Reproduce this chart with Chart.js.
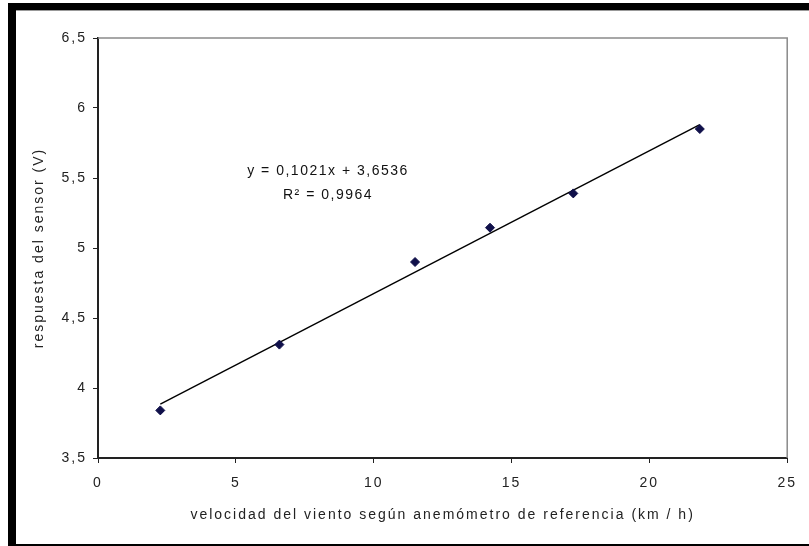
<!DOCTYPE html>
<html>
<head>
<meta charset="utf-8">
<script src="https://cdn.jsdelivr.net/npm/chart.js@4.4.1/dist/chart.umd.min.js"></script>
<style>
  html, body { margin: 0; padding: 0; background: #fff; }
  #wrap { width: 809px; height: 546px; position: relative; }
</style>
</head>
<body>
<div id="wrap"><canvas id="myChart" width="809" height="546"></canvas></div>
<script>
// datos
var velocidad = [2.26, 6.58, 11.5, 14.22, 17.24, 21.83];
var respuesta = [3.84, 4.31, 4.90, 5.145, 5.39, 5.85];
// linea de tendencia (extremos)
var trendX = [2.26, 21.83];
var trendY = [3.884, 5.882];
var ecuacion = 'y = 0,1021x + 3,6536';
var r2 = 'R² = 0,9964';
var xTitulo = 'velocidad del viento según anemómetro de referencia (km / h)';
var yTitulo = 'respuesta del sensor (V)';

var fontFam = '"Liberation Sans", Arial, sans-serif';
var espacio = '2px';
var coma = function(v){ return String(v).replace('.', ','); };

// marco negro + borde gris del area + texto de la ecuacion
var marco = {
  id: 'marco',
  beforeUpdate: function(chart){
    chart.ctx.letterSpacing = espacio;
  },
  beforeDraw: function(chart){
    var c = chart.ctx;
    c.letterSpacing = espacio;
    c.save();
    c.fillStyle = '#fff';
    c.fillRect(0, 0, chart.width, chart.height);
    c.fillStyle = '#000';
    c.fillRect(8, 3, chart.width - 8, 7);
    c.fillRect(8, 3, 8, chart.height - 3);
    c.fillRect(8, 544, chart.width - 8, 2);
    c.fillStyle = '#999';
    c.fillRect(16, 10, chart.width - 16, 1);
    c.restore();
  },
  beforeDatasetsDraw: function(chart){
    var a = chart.chartArea, c = chart.ctx;
    c.save();
    c.strokeStyle = '#8a8a8a';
    c.lineWidth = 1.5;
    c.beginPath();
    c.moveTo(a.left, a.top);
    c.lineTo(a.right, a.top);
    c.lineTo(a.right, a.bottom);
    c.stroke();
    c.restore();
  },
  afterDraw: function(chart){
    var c = chart.ctx;
    c.save();
    c.fillStyle = '#111';
    c.font = '14px ' + fontFam;
    c.letterSpacing = '1.5px';
    c.textAlign = 'center';
    c.textBaseline = 'middle';
    c.fillText(ecuacion, 328, 171);
    c.fillText(r2, 328, 195);
    c.restore();
  }
};

new Chart(document.getElementById('myChart'), {
  type: 'scatter',
  data: {
    datasets: [
      {
        label: 'respuesta',
        data: velocidad.map(function(v, i){ return {x: v, y: respuesta[i]}; }),
        pointStyle: 'rectRot',
        pointRadius: 4.5,
        backgroundColor: '#10104a',
        borderColor: '#10104a',
        borderWidth: 1,
        order: 1
      },
      {
        label: 'tendencia',
        type: 'line',
        data: trendX.map(function(v, i){ return {x: v, y: trendY[i]}; }),
        borderColor: '#000',
        borderWidth: 1.4,
        pointRadius: 0,
        fill: false,
        order: 2
      }
    ]
  },
  options: {
    responsive: false,
    animation: false,
    layout: { padding: { left: 0, top: 38, right: 17, bottom: 0 } },
    plugins: {
      legend: { display: false },
      tooltip: { enabled: false }
    },
    scales: {
      x: {
        type: 'linear',
        min: 0, max: 25,
        afterFit: function(s){ s.height = 88; },
        ticks: { stepSize: 5, padding: 12, color: '#222', font: { family: fontFam, size: 14 }, callback: coma },
        grid: { drawOnChartArea: false, drawTicks: true, tickLength: 5, tickColor: '#222' },
        border: { display: true, color: '#222', width: 2 },
        title: { display: true, text: xTitulo, color: '#222', font: { family: fontFam, size: 14 }, padding: { top: 0, bottom: 22 } }
      },
      y: {
        min: 3.5, max: 6.5,
        afterFit: function(s){ s.width = 98; },
        ticks: { stepSize: 0.5, padding: 6, color: '#222', font: { family: fontFam, size: 14 }, callback: coma },
        grid: { drawOnChartArea: false, drawTicks: true, tickLength: 5, tickColor: '#222' },
        border: { display: true, color: '#222', width: 2 },
        title: { display: true, text: yTitulo, color: '#222', font: { family: fontFam, size: 14 }, padding: { top: 31, bottom: 0 } }
      }
    }
  },
  plugins: [marco]
});
</script>
</body>
</html>
